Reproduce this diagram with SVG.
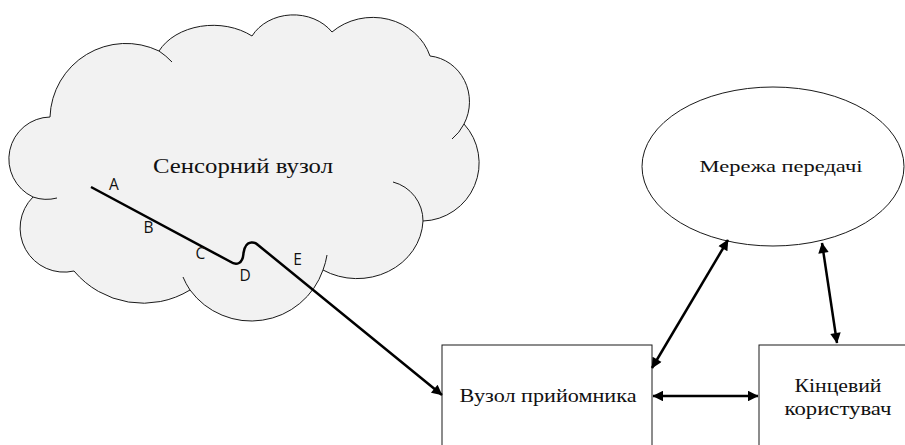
<svg xmlns="http://www.w3.org/2000/svg" width="905" height="445" viewBox="0 0 905 445">
  <style>
    .outline { fill: #ffffff; stroke: #1a1a1a; stroke-width: 1; }
    .cloud { fill: #f2f2f2; stroke: #1a1a1a; stroke-width: 1; }
    .tail { fill: none; stroke: #1a1a1a; stroke-width: 1; }
    .conn { fill: none; stroke: #000000; stroke-width: 2.5; }
    .label { font-family: "Liberation Serif", "Times New Roman", serif; fill: #111111; }
    .pt { font-family: "Open Sans", "DejaVu Sans", sans-serif; font-size: 15.5px; fill: #111111; text-anchor: middle; }
  </style>
  <defs>
    <marker id="arrow" viewBox="0 0 10 10" refX="9.5" refY="5" markerWidth="5.2" markerHeight="4.2" orient="auto-start-reverse" markerUnits="strokeWidth">
      <path d="M0 0 L10 5 L0 10 Z" fill="#000000"/>
    </marker>
  </defs>

  <rect width="905" height="445" fill="#ffffff"/>

  <!-- Sensor node: cloud -->
  <g id="sensor-node">
    <path class="cloud" d="M50 117
      A76 76 0 0 1 159 51
      A60 45 0 0 1 252 36
      A47 40 0 0 1 332 32
      A60 55 0 0 1 430 56
      A44 46 0 0 1 464 124
      A58 58 0 0 1 423 221
      A66 60 0 0 1 323 270
      A76 76 0 0 1 190 290
      A90 90 0 0 1 74 271
      A44 44 0 0 1 33 197
      A42 42 0 0 1 50 117 Z"/>
    <path class="tail" d="M159 51 A76 76 0 0 1 172 62"/>
    <path class="tail" d="M464 124 A44 46 0 0 1 452 139"/>
    <path class="tail" d="M393 182 A40 40 0 0 1 423 221"/>
    <path class="tail" d="M327 255 A76 76 0 0 1 323 270"/>
    <path class="tail" d="M190 290 A76 76 0 0 1 183 277"/>
    <path class="tail" d="M33 197 A41 41 0 0 0 57 198"/>
    <text class="label" x="243" y="173" font-size="22" text-anchor="middle" textLength="180" lengthAdjust="spacingAndGlyphs">Сенсорний вузол</text>
  </g>

  <!-- Transmission network -->
  <g id="network">
    <ellipse class="outline" cx="773" cy="166.5" rx="131" ry="79.5"/>
    <text class="label" x="781" y="172" font-size="17" text-anchor="middle" textLength="163" lengthAdjust="spacingAndGlyphs">Мережа передачі</text>
  </g>

  <!-- Receiver node -->
  <g id="receiver">
    <rect class="outline" x="442" y="345" width="210" height="110"/>
    <text class="label" x="548" y="402" font-size="18" text-anchor="middle" textLength="177" lengthAdjust="spacingAndGlyphs">Вузол прийомника</text>
  </g>

  <!-- End user -->
  <g id="end-user">
    <rect class="outline" x="759" y="345" width="160" height="110"/>
    <text class="label" x="838" y="392" font-size="18" text-anchor="middle" textLength="87" lengthAdjust="spacingAndGlyphs">Кінцевий</text>
    <text class="label" x="838" y="415" font-size="18" text-anchor="middle" textLength="107" lengthAdjust="spacingAndGlyphs">користувач</text>
  </g>

  <!-- Connectors -->
  <g id="connectors">
    <path class="conn" marker-end="url(#arrow)" d="M91 187 L230 261.5 Q235 265 239 263 Q243 261 243.5 253 Q245 243 251 242.5 Q255 242 258 245 L442 395"/>
    <path class="conn" marker-start="url(#arrow)" marker-end="url(#arrow)" d="M652 368 L728 240"/>
    <path class="conn" marker-start="url(#arrow)" marker-end="url(#arrow)" d="M822 243 L837 343"/>
    <path class="conn" marker-start="url(#arrow)" marker-end="url(#arrow)" d="M653 396 L758 396"/>
  </g>

  <!-- Points along the signal path -->
  <g id="path-points">
    <text class="pt" x="114" y="190">A</text>
    <text class="pt" x="148.5" y="232.5">B</text>
    <text class="pt" x="200.5" y="258.5">C</text>
    <text class="pt" x="245" y="280.5">D</text>
    <text class="pt" x="297.5" y="264.5">E</text>
  </g>
</svg>
